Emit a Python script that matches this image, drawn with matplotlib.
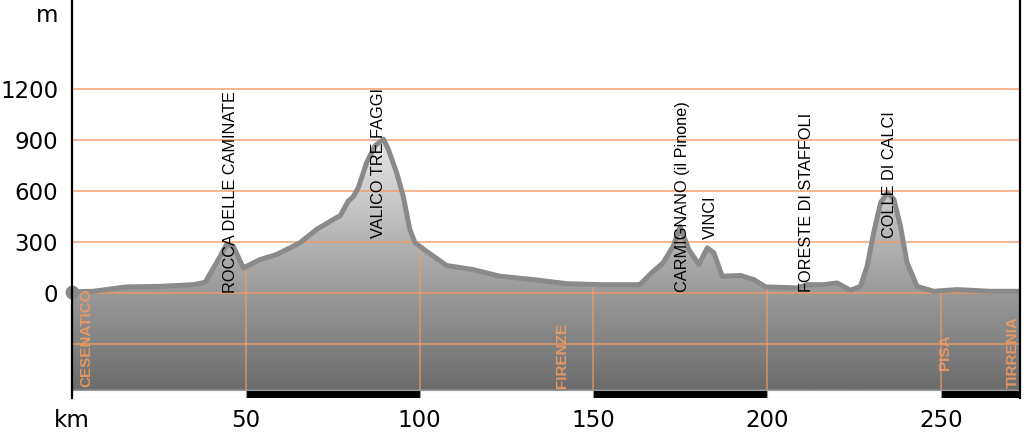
import numpy as np, matplotlib
matplotlib.use("Agg")
import matplotlib.pyplot as plt
from matplotlib.patches import Polygon, Rectangle
from matplotlib.colors import LinearSegmentedColormap

# elevation profile (km, m)
km = [0, 6.1, 15.7, 25.3, 34.9, 38.3, 41.6, 44.5, 46.4, 49.3, 54.1, 58.9, 63.7,
      65.6, 70.4, 76.1, 77.1, 79.5, 80.9, 82.4, 84.8, 87.2, 89.6, 91.0, 93.4,
      95.3, 97.2, 98.7, 102.0, 107.8, 115.4, 123.1, 132.7, 142.3, 151.9, 163.4,
      166.8, 170.1, 173.0, 175.0, 177.5, 180.4, 182.8, 184.7, 187.1, 192.4,
      196.2, 199.6, 208.7, 211.5, 216.3, 220.2, 224.0, 226.9, 228.8, 230.7,
      232.7, 234.6, 236.5, 238.4, 240.3, 243.2, 248.0, 254.7, 264.3, 272.8]
elev = [5, 8, 34, 37, 47, 61, 176, 284, 274, 146, 195, 225, 274,
        294, 373, 442, 451, 540, 565, 619, 767, 866, 905, 846, 708,
        570, 373, 294, 244, 160, 136, 97, 77, 53, 47, 47,
        117, 176, 274, 390, 254, 166, 264, 235, 97, 101,
        77, 34, 28, 47, 47, 57, 14, 37, 156, 353,
        531, 590, 550, 392, 176, 37, 8, 18, 8, 8]

peaks = ["ROCCA DELLE CAMINATE", "VALICO TRE FAGGI", "CARMIGNANO (il Pinone)",
         "VINCI", "FORESTE DI STAFFOLI", "COLLE DI CALCI"]
peak_km = [45.7, 88.3, 175.8, 183.8, 211.4, 235.3]
peak_base = [0, 325, 5, 315, 5, 325]

towns = ["CESENATICO", "FIRENZE", "PISA", "TIRRENIA"]
town_km = [4.0, 141.0, 251.2, 270.7]
town_base = [-556, -562, -456, -562]

yticks = [0, 300, 600, 900, 1200]
hgrid = [-300, 0, 300, 600, 900, 1200]
xticks = [0, 50, 100, 150, 200, 250]
xlabels = ["km", "50", "100", "150", "200", "250"]

XMAX, YTOP, YBOT, FILL_BOT = 272.8, 1725, -621, -573
ORANGE = "#f09a62"

fig = plt.figure(figsize=(10.24, 4.33), dpi=100)
ax = fig.add_axes([72/1024, 35/433, 948/1024, 398/433])

# gradient fill clipped to the profile
verts = np.column_stack([np.r_[km, XMAX, 0], np.r_[elev, FILL_BOT, FILL_BOT]])
poly = Polygon(verts, closed=True, facecolor="none", edgecolor="none")
ax.add_patch(poly)
cmap = LinearSegmentedColormap.from_list("g", ["#6c6c6c", "#a9a9a9", "#ececec"])
grad = np.linspace(0, 1, 256).reshape(-1, 1)
im = ax.imshow(grad, extent=[0, XMAX, FILL_BOT, 950], origin="lower",
               aspect="auto", cmap=cmap, zorder=1)
im.set_clip_path(poly)
ax.set_xlim(0, XMAX); ax.set_ylim(YBOT, YTOP)

for y in hgrid:
    ax.axhline(y, color=ORANGE, lw=1.4, alpha=0.7, zorder=2)
for x in xticks[1:]:
    ax.plot([x, x], [FILL_BOT, np.interp(x, km, elev)], color=ORANGE,
            lw=1.2, alpha=0.75, zorder=2)

ax.plot(km, elev, color="#8a8a8a", lw=3.6, solid_joinstyle="round", zorder=3)
ax.plot([0], [elev[0]], "o", color="#8a8a8a", ms=9, clip_on=False, zorder=5)

# alternating distance band
for i, x0 in enumerate(xticks):
    x1 = xticks[i + 1] if i + 1 < len(xticks) else XMAX
    ax.add_patch(Rectangle((x0, YBOT), x1 - x0, FILL_BOT - YBOT,
                           facecolor="black" if i % 2 else "white",
                           edgecolor="#999999", lw=0.8, zorder=3))

for name, x, b in zip(peaks, peak_km, peak_base):
    ax.text(x, b, name, rotation=90, ha="center", va="bottom", fontsize=11.7,
            family="Liberation Sans", color="black", zorder=6)
for name, x, b in zip(towns, town_km, town_base):
    ax.text(x, b, name, rotation=90, ha="center", va="bottom", fontsize=11,
            family="Liberation Sans", fontweight="bold", color=ORANGE,
            alpha=0.9, zorder=6)

ax.set_yticks(yticks); ax.set_yticklabels([str(v) for v in yticks])
ax.set_xticks(xticks); ax.set_xticklabels(xlabels)
ax.tick_params(axis="y", length=0, pad=10, labelsize=16.5)
ax.tick_params(axis="x", length=0, pad=8, labelsize=16.5)
ax.spines["top"].set_visible(False)
ax.spines["bottom"].set_visible(False)
for s in ("left", "right"):
    ax.spines[s].set_linewidth(1.6); ax.spines[s].set_zorder(7)
fig.text(58/1024, 1 - 15/433, "m", ha="right", va="center", fontsize=16.5)

fig.savefig("out.png", dpi=100)
